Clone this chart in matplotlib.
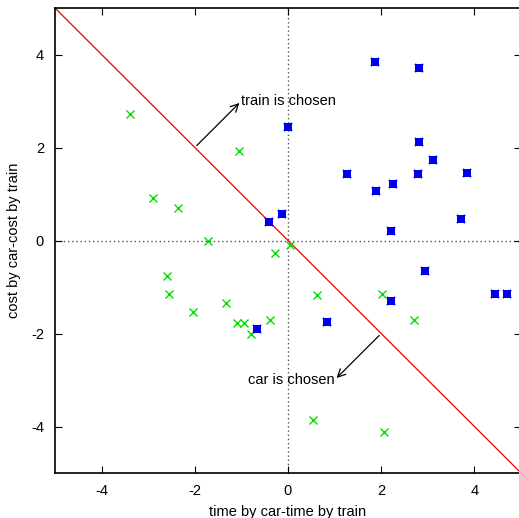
import matplotlib
matplotlib.use("Agg")
import matplotlib.pyplot as plt

plt.rcParams['font.family'] = ['Liberation Sans', 'DejaVu Sans']

train_x = [1.87, 2.81, -0.01, 2.81, 3.11, 1.27, 2.78, 3.84, 2.25, 1.89, 3.71, 2.20, -0.12, -0.40, -0.66, 0.83, 2.95, 4.44, 4.71, 2.20]
train_y = [3.83, 3.71, 2.45, 2.11, 1.74, 1.42, 1.43, 1.46, 1.21, 1.07, 0.46, 0.21, 0.57, 0.40, -1.90, -1.76, -0.65, -1.15, -1.15, -1.30]

car_x = [-3.39, -1.05, -2.89, -2.35, -1.72, -0.28, 0.04, -2.60, -2.55, -2.03, -1.32, -1.10, -0.94, -0.80, -0.39, 0.62, 2.02, 2.71, 0.53, 2.05]
car_y = [2.71, 1.92, 0.92, 0.70, -0.01, -0.27, -0.09, -0.77, -1.16, -1.53, -1.34, -1.78, -1.78, -2.02, -1.71, -1.18, -1.14, -1.72, -3.85, -4.12]

boundary_x = [-5, 5]
boundary_y = [5, -5]

ticks = [-4, -2, 0, 2, 4]

FS = 10.5
W, H = 519, 518
fig = plt.figure(figsize=(W / 100, H / 100), dpi=100)
ax = fig.add_axes([55 / W, (H - 473) / H, 466 / W, 465 / H])
ax.set_xlim(-5, 5)
ax.set_ylim(-5, 5)

ax.axhline(0, color='#555555', lw=1.0, ls=(0, (1, 2)), zorder=1)
ax.axvline(0, color='#555555', lw=1.0, ls=(0, (1, 2)), zorder=1)

ax.plot(boundary_x, boundary_y, color='#ee0000', lw=0.9, zorder=2)

ax.plot(car_x, car_y, ls='none', marker='x', ms=5.5, mew=1.0, color='#00e000', zorder=3)
ax.plot(train_x, train_y, ls='none', marker='s', ms=6, mew=0, color='#0000ee', zorder=4)
ax.plot(train_x, train_y, ls='none', marker='x', ms=6, mew=1.4, color='#0000ee', zorder=4)

ax.annotate('', xy=(-1, 3), xytext=(-2, 2),
            arrowprops=dict(arrowstyle='->', color='black', lw=0.9, mutation_scale=14))
ax.text(-1, 3.0, 'train is chosen', ha='left', va='center', fontsize=FS)
ax.annotate('', xy=(1, -3), xytext=(2, -2),
            arrowprops=dict(arrowstyle='->', color='black', lw=0.9, mutation_scale=14))
ax.text(1, -3.0, 'car is chosen', ha='right', va='center', fontsize=FS)

ax.set_xticks(ticks)
ax.set_yticks(ticks)
ax.set_xticklabels([str(t) for t in ticks])
ax.set_yticklabels([str(t) for t in ticks])
ax.tick_params(direction='in', length=5, width=0.8, labelsize=FS, top=True, right=True, pad=8)
for s in ax.spines.values():
    s.set_linewidth(1.2)

ax.set_xlabel('time by car-time by train', fontsize=FS, labelpad=5)
ax.set_ylabel('cost by car-cost by train', fontsize=FS, labelpad=7)

fig.savefig('out.png', dpi=100)
